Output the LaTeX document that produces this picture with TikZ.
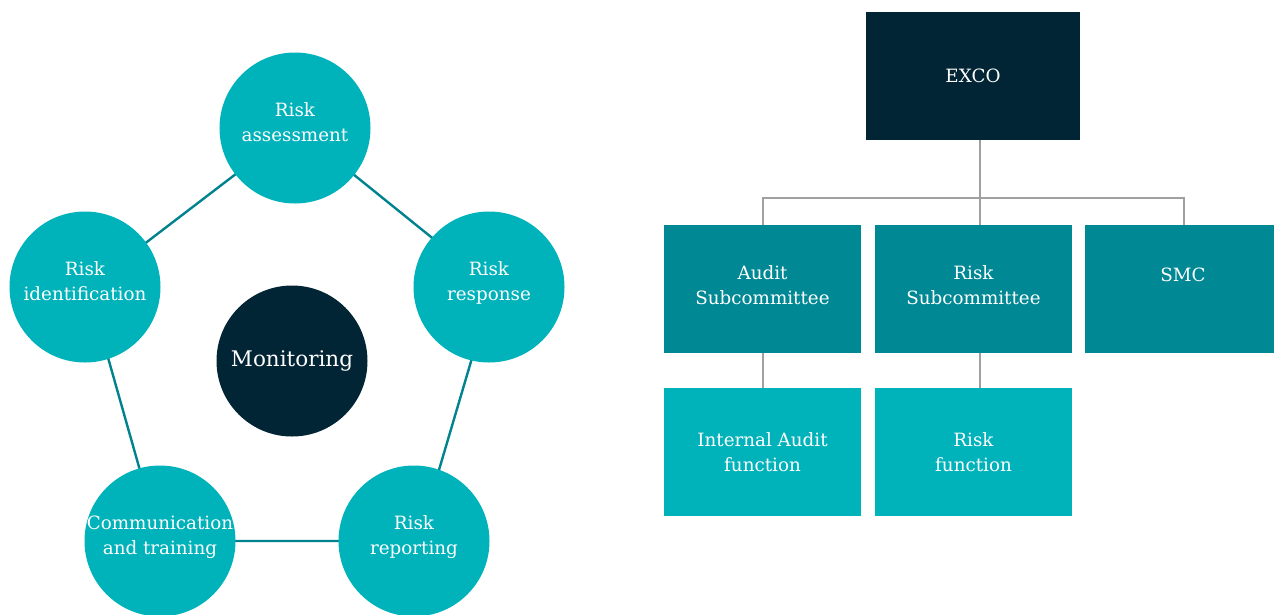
\documentclass[tikz,border=0pt]{standalone}
\usepackage{fontspec}
\setmainfont{DejaVu Serif}
\definecolor{tealLight}{HTML}{00B2BA}
\definecolor{tealMid}{HTML}{008894}
\definecolor{tealLine}{HTML}{00838F}
\definecolor{navy}{HTML}{012534}
\definecolor{connGray}{HTML}{A0A0A0}
\begin{document}
\begin{tikzpicture}[x=1pt,y=-1pt,
  cyc/.style={circle,fill=tealLight,minimum size=151pt,inner sep=-12pt,
    text=white,align=center,text depth=12pt,font=\fontsize{18.3}{25.5}\selectfont},
  hub/.style={circle,fill=navy,minimum size=151pt,inner sep=0pt,
    text=white,font=\fontsize{21.5}{25}\selectfont},
  ring/.style={draw=tealLine,line width=2.4pt},
  orgbox/.style={rectangle,inner sep=0pt,minimum width=197pt,minimum height=128pt,
    text=white,align=center,font=\fontsize{18.3}{25.5}\selectfont},
  topbox/.style={orgbox,fill=navy,minimum width=214pt},
  subbox/.style={orgbox,fill=tealMid,text depth=8pt},
  unitbox/.style={orgbox,fill=tealLight},
  tree/.style={draw=connGray,line width=1.3pt},
  lbl/.style={text=white,align=center,font=\fontsize{18.3}{25.5}\selectfont}]
\useasboundingbox (0,0) rectangle (1274,614);
\begin{scope}
\clip (0,0) rectangle (1274,614);
% risk cycle
\coordinate (cA) at (295,128);
\coordinate (cR) at (489,287);
\coordinate (cP) at (414,541);
\coordinate (cC) at (160,541);
\coordinate (cI) at (85,287);
\draw[ring] ([xshift=1pt]cA) -- ([xshift=4pt]cR) -- ([xshift=4pt]cP) -- (cC) -- ([xshift=3pt]cI) -- cycle;
\node[cyc] (assess) at (cA) {Risk\\assessment};
\node[cyc] (respond) at (cR) {Risk\\response};
\node[cyc] (report) at (cP) {Risk\\reporting};
\node[cyc] (comm) at (cC) {Communication\\and training};
\node[cyc] (ident) at (cI) {Risk\\identification};
\node[hub] (monitor) at (292,361) {Monitoring};
\end{scope}
% governance structure
\node[topbox] (exco) at (973,76) {EXCO};
\node[subbox] (audit) at (762.5,289) {Audit\\Subcommittee};
\node[subbox] (risksc) at (973.5,289) {Risk\\Subcommittee};
\node[subbox,minimum width=189pt] (smc) at (1179.5,289) {};
\node[lbl,anchor=center] (smclbl) at (1183,275) {SMC};
\node[unitbox] (iaf) at (762.5,452) {Internal Audit\\function};
\node[unitbox] (rf) at (973.5,452) {Risk\\function};
\coordinate (bus) at (980,198);
\draw[tree] (exco.south -| bus) -- (bus);
\draw[tree] (audit.north -| 763,0) |- (bus) -| (smc.north -| 1184,0);
\draw[tree] (bus) -- (risksc.north -| bus);
\draw[tree] (audit.south -| 763,0) -- (iaf.north -| 763,0);
\draw[tree] (risksc.south -| bus) -- (rf.north -| bus);
\end{tikzpicture}
\end{document}
